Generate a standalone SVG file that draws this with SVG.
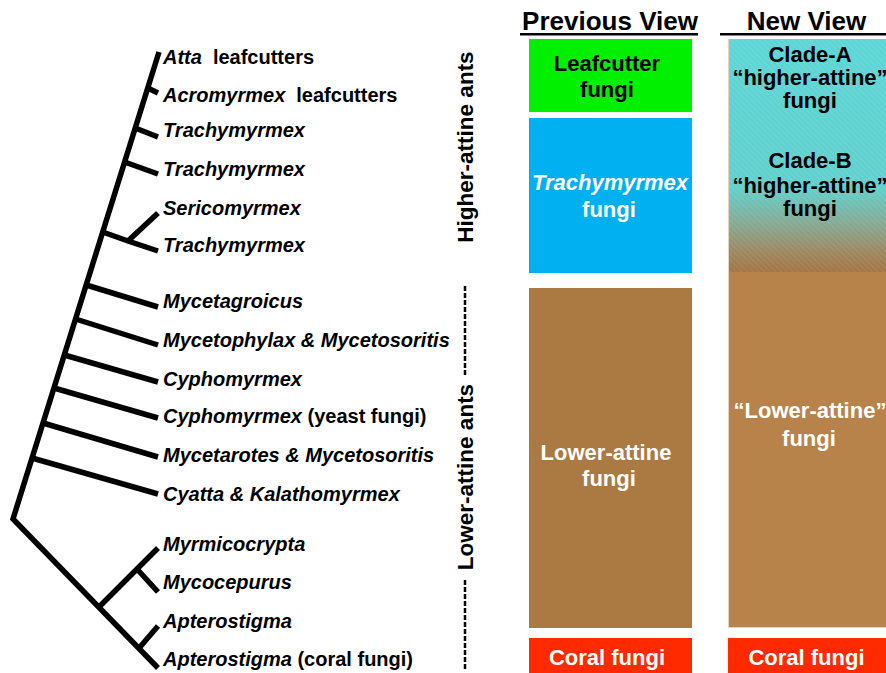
<svg xmlns="http://www.w3.org/2000/svg" width="886" height="673" viewBox="0 0 886 673">
<defs>
<style>
.tx{font-family:"Liberation Sans",Arial,sans-serif;font-weight:bold;font-size:20px;font-style:italic;fill:#000}
.n{font-style:normal}
.hd{font-family:"Liberation Sans",Arial,sans-serif;font-weight:bold;font-size:26px;fill:#000;text-anchor:middle}
.bx{font-family:"Liberation Sans",Arial,sans-serif;font-weight:bold;font-size:22px;text-anchor:middle}
.side{font-family:"Liberation Sans",Arial,sans-serif;font-weight:bold;font-size:22.5px;fill:#000;text-anchor:middle}
.br{fill:none;stroke:#000;stroke-width:5.5;stroke-linejoin:miter}
.dash{stroke:#000;stroke-width:2.5;stroke-dasharray:5 2}
</style>
<linearGradient id="grad" x1="0" y1="0" x2="0" y2="1">
<stop offset="0" stop-color="#5dd6d6"/>
<stop offset="0.64" stop-color="#62d0cc"/>
<stop offset="0.8" stop-color="#88a890"/>
<stop offset="0.93" stop-color="#a0845a"/>
<stop offset="1" stop-color="#a47545"/>
</linearGradient>
<pattern id="hatch" width="4" height="4" patternUnits="userSpaceOnUse" patternTransform="rotate(-45)">
<line x1="0" y1="0" x2="0" y2="4" stroke="#ffffff" stroke-opacity="0.18" stroke-width="1"/>
</pattern>
</defs>
<rect width="886" height="673" fill="#fff"/>

<g id="connectors">
<polyline class="br" points="159,52 13,519 158,668"/>
<line class="br" x1="147.7" y1="88" x2="158" y2="93"/>
<line class="br" x1="135.2" y1="128" x2="158" y2="137"/>
<line class="br" x1="124.6" y1="162" x2="158" y2="174"/>
<polyline class="br" points="102.7,232 128,241 158,251"/>
<line class="br" x1="128" y1="241" x2="158" y2="213"/>
<line class="br" x1="86.2" y1="285" x2="158" y2="307"/>
<line class="br" x1="75.5" y1="319" x2="158" y2="345"/>
<line class="br" x1="64.3" y1="355" x2="158" y2="382"/>
<line class="br" x1="54" y1="388" x2="158" y2="418"/>
<line class="br" x1="43" y1="423" x2="158" y2="457"/>
<line class="br" x1="32" y1="458" x2="158" y2="494"/>
<line class="br" x1="99" y1="607" x2="158" y2="548"/>
<line class="br" x1="137" y1="569" x2="158" y2="592"/>
<line class="br" x1="140" y1="647" x2="158" y2="626"/>
</g>

<g id="taxa">
<g id="t-atta"><text class="tx" x="163" y="64">Atta<tspan class="n" dx="11">leafcutters</tspan></text></g>
<g id="t-acromyrmex"><text class="tx" x="163" y="102">Acromyrmex<tspan class="n" dx="11">leafcutters</tspan></text></g>
<g id="t-trachy1"><text class="tx" x="163" y="137">Trachymyrmex</text></g>
<g id="t-trachy2"><text class="tx" x="163" y="176">Trachymyrmex</text></g>
<g id="t-serico"><text class="tx" x="163" y="215">Sericomyrmex</text></g>
<g id="t-trachy3"><text class="tx" x="163" y="252">Trachymyrmex</text></g>
<g id="t-mycetagroicus"><text class="tx" x="163" y="308">Mycetagroicus</text></g>
<g id="t-mycetophylax"><text class="tx" x="163" y="347">Mycetophylax &amp; Mycetosoritis</text></g>
<g id="t-cypho1"><text class="tx" x="163" y="386">Cyphomyrmex</text></g>
<g id="t-cypho2"><text class="tx" x="163" y="423">Cyphomyrmex<tspan class="n"> (yeast fungi)</tspan></text></g>
<g id="t-mycetarotes"><text class="tx" x="163" y="462">Mycetarotes &amp; Mycetosoritis</text></g>
<g id="t-cyatta"><text class="tx" x="163" y="501">Cyatta &amp; Kalathomyrmex</text></g>
<g id="t-myrmicocrypta"><text class="tx" x="163" y="551">Myrmicocrypta</text></g>
<g id="t-mycocepurus"><text class="tx" x="163" y="589">Mycocepurus</text></g>
<g id="t-aptero1"><text class="tx" x="163" y="628">Apterostigma</text></g>
<g id="t-aptero2"><text class="tx" x="163" y="666">Apterostigma<tspan class="n"> (coral fungi)</tspan></text></g>
</g>

<g id="group-labels">
<g id="higher-attine"><text class="side" transform="translate(473,147) rotate(-90)">Higher-attine ants</text></g>
<g id="lower-attine">
<text class="side" font-size="23.3" transform="translate(473,477) rotate(-90)">Lower-attine ants</text>
<line class="dash" x1="465" y1="286" x2="465" y2="376"/>
<line class="dash" x1="465" y1="580" x2="465" y2="670"/>
</g>
</g>

<g id="previous-view">
<text class="hd" x="610" y="30">Previous View</text>
<rect x="520" y="33" width="178" height="2.5" fill="#000"/>
<g id="p-leafcutter">
<rect x="529" y="39" width="163" height="73" fill="#00f000"/>
<text class="bx" x="607" y="71" fill="#000">Leafcutter</text>
<text class="bx" x="607" y="97" fill="#000">fungi</text>
</g>
<g id="p-trachy">
<rect x="529" y="118" width="163" height="155" fill="#00b0f0"/>
<text class="bx" x="610" y="190" fill="#fff" font-style="italic" font-size="21">Trachymyrmex</text>
<text class="bx" x="609" y="217" fill="#fff">fungi</text>
</g>
<g id="p-lower">
<rect x="529" y="288" width="163" height="340" fill="#ab7942"/>
<text class="bx" x="606" y="460" fill="#fff">Lower-attine</text>
<text class="bx" x="609" y="486" fill="#fff">fungi</text>
</g>
<g id="p-coral">
<rect x="529" y="638" width="163" height="35" fill="#ff2a00"/>
<text class="bx" x="607" y="665" fill="#fff">Coral fungi</text>
</g>
</g>

<g id="new-view">
<text class="hd" x="806.5" y="30">New View</text>
<rect x="720" y="33" width="166" height="2.5" fill="#000"/>
<g id="n-higher">
<rect x="728" y="39" width="160" height="233" fill="url(#grad)"/>
<rect x="728" y="39" width="160" height="233" fill="url(#hatch)"/>
<text class="bx" x="810" y="62" fill="#000">Clade-A</text>
<text class="bx" x="810" y="85" fill="#000">“higher-attine”</text>
<text class="bx" x="810" y="108" fill="#000">fungi</text>
<text class="bx" x="810" y="168" fill="#000">Clade-B</text>
<text class="bx" x="810" y="193" fill="#000">“higher-attine”</text>
<text class="bx" x="810" y="216" fill="#000">fungi</text>
</g>
<g id="n-lower">
<rect x="728" y="272" width="160" height="356" fill="#b8834a"/>
<line x1="728.5" y1="39" x2="728.5" y2="628" stroke="#e2d4c4" stroke-width="1"/>
<line x1="728" y1="627.5" x2="886" y2="627.5" stroke="#e2d4c4" stroke-width="1"/>
<text class="bx" x="810" y="418" fill="#fff">“Lower-attine”</text>
<text class="bx" x="809" y="446" fill="#fff">fungi</text>
</g>
<g id="n-coral">
<rect x="728" y="638" width="160" height="35" fill="#ff2a00"/>
<text class="bx" x="806.5" y="665" fill="#fff">Coral fungi</text>
</g>
</g>
</svg>
